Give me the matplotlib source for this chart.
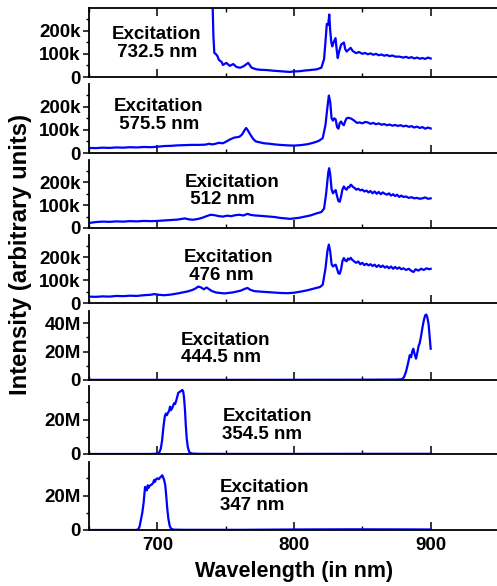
import matplotlib
matplotlib.use("Agg")
import matplotlib.pyplot as plt
from matplotlib.ticker import MultipleLocator, FuncFormatter

plt.rcParams['font.family'] = ['Liberation Sans', 'DejaVu Sans']
plt.rcParams['font.weight'] = 'bold'

# ---------------- data ----------------
labels = ["Excitation\n 732.5 nm", "Excitation\n 575.5 nm", "Exicitation\n 512 nm",
          "Excitation\n 476 nm", "Excitation\n444.5 nm", "Excitation\n354.5 nm",
          "Excitation\n347 nm"]

# panel 1 (k counts)
wl1 = [740, 740.5, 741, 741.7, 743, 744, 745, 747, 748, 750.5, 753, 755.5, 758, 760.6,
       763, 766.5, 769, 772.6, 776, 780, 785, 790, 794, 797, 800, 804, 808, 811.6, 816.5,
       820, 822, 823, 824, 825, 825.8, 826.5, 827.3, 828, 829, 830.4, 831.2, 832, 833,
       834.5, 836.5, 837.5, 838.5, 840, 841.4, 843, 845.5, 847.5, 850, 852, 854, 856, 858,
       860, 862, 864, 866, 868, 870, 872, 874, 877, 880, 882, 884, 886, 888, 890, 892, 894,
       896, 898, 900]
in1 = [450, 300, 180, 104, 98, 90, 74, 65, 52, 61, 48, 56, 43, 40, 46, 61, 40, 33, 31,
       30, 27, 25, 23, 22, 24, 25, 28, 30, 33, 40, 77, 150, 229, 225, 270, 200, 150, 132,
       150, 168, 120, 82, 110, 140, 149, 120, 110, 118, 126, 112, 103, 108, 100, 104, 98,
       102, 96, 100, 94, 97, 92, 95, 90, 93, 88, 88, 84, 87, 82, 86, 80, 84, 79, 82, 78,
       84, 80]

# panel 2 (k counts)
wl2 = [650, 655, 660, 665, 670, 675, 680, 685, 690, 695, 700, 705, 710, 715, 720, 725,
       730, 735, 738, 740, 742, 745, 748, 750, 753, 756, 758, 760, 762, 764, 765, 766, 768,
       770, 772, 775, 778, 782, 786, 790, 795, 800, 805, 810, 814, 818, 821, 823, 824.5,
       825.5, 826.5, 827.5, 828.5, 829.5, 830.5, 831.5, 832.5, 833.5, 834.5, 835.5, 836.5,
       837.5, 838.5, 840, 842, 844, 846, 848, 850, 852, 854, 856, 858, 860, 862, 864, 866,
       868, 870, 872, 874, 876, 878, 880, 882, 884, 886, 888, 890, 892, 894, 896, 898, 900]
in2 = [22, 21, 23, 22, 24, 23, 25, 24, 26, 25, 27, 30, 31, 33, 34, 35, 35, 36, 40, 37,
       39, 44, 42, 48, 58, 66, 68, 70, 80, 100, 108, 100, 80, 62, 50, 46, 42, 40, 37, 35,
       33, 32, 34, 38, 44, 52, 64, 120, 200, 248, 220, 150, 140, 150, 145, 112, 105, 130,
       136, 125, 120, 138, 150, 152, 148, 140, 130, 132, 128, 134, 132, 126, 130, 124, 128,
       122, 125, 120, 123, 118, 121, 117, 120, 115, 118, 113, 116, 110, 114, 108, 112, 105,
       110, 106]

# panel 3 (k counts)
wl3 = [650, 655, 660, 665, 670, 675, 680, 685, 690, 695, 700, 705, 710, 715, 720, 723,
       726, 730, 733, 736, 739, 742, 745, 748, 751, 754, 757, 760, 763, 766, 768, 771, 774,
       778, 782, 786, 790, 794, 797, 800, 804, 808, 812, 816, 820, 822, 823.5, 825, 825.7,
       826.5, 827.5, 828.5, 829.5, 830.5, 831.5, 832.5, 833.5, 834.5, 835.5, 836.5, 837.5,
       838.5, 839.5, 840.5, 841.5, 842.5, 843.5, 844.5, 845.5, 847, 848.5, 850, 851.5, 853,
       854.5, 856, 857.5, 859, 860.5, 862, 863.5, 865, 866.5, 868, 869.5, 871, 872.5, 874,
       875.5, 877, 878.5, 880, 882, 884, 886, 888, 890, 892, 894, 896, 898, 900]
in3 = [22, 26, 28, 27, 29, 28, 30, 29, 31, 30, 31, 33, 35, 37, 42, 38, 36, 40, 45, 52,
       58, 56, 52, 50, 54, 52, 56, 58, 55, 62, 58, 55, 54, 52, 50, 48, 44, 42, 40, 42, 45,
       50, 55, 63, 70, 85, 150, 240, 262, 235, 170, 152, 160, 166, 140, 118, 115, 140, 170,
       182, 172, 168, 180, 178, 190, 185, 178, 175, 168, 172, 165, 168, 160, 164, 156, 162,
       152, 160, 150, 158, 148, 156, 150, 146, 152, 142, 148, 140, 146, 136, 142, 136, 138,
       132, 135, 130, 132, 128, 130, 134, 128, 130]

# panel 4 (k counts)
wl4 = [650, 655, 660, 665, 670, 675, 680, 685, 690, 695, 698, 701, 705, 710, 715, 720,
       723, 726, 728, 730, 732, 734, 736, 738, 740, 743, 746, 749, 752, 755, 758, 761, 764,
       766, 768, 771, 775, 780, 785, 790, 795, 800, 805, 810, 815, 819, 821, 823, 824.5,
       825.5, 826.5, 827.5, 828.5, 829.5, 830.5, 831.5, 832.5, 833.5, 834.5, 835.5, 836.5,
       837.5, 838.5, 839.5, 840.5, 841.5, 842.5, 843.5, 844.5, 845.5, 847, 848.5, 850,
       851.5, 853, 854.5, 856, 857.5, 859, 860.5, 862, 863.5, 865, 866.5, 868, 869.5, 871,
       872.5, 874, 875.5, 877, 878.5, 880, 882, 884, 886, 887.5, 889, 891, 893, 895, 897,
       899, 900]
in4 = [28, 27, 29, 28, 31, 30, 32, 31, 34, 36, 39, 36, 34, 37, 42, 48, 52, 58, 64, 72,
       68, 60, 68, 60, 52, 46, 44, 42, 44, 46, 50, 54, 62, 66, 58, 52, 50, 48, 46, 44, 43,
       45, 50, 56, 64, 70, 80, 150, 230, 256, 225, 170, 160, 165, 168, 150, 130, 128, 150,
       185, 197, 186, 183, 195, 190, 198, 190, 185, 180, 176, 182, 170, 176, 166, 172, 165,
       170, 162, 168, 158, 166, 157, 164, 155, 161, 152, 160, 150, 158, 150, 156, 148, 152,
       145, 150, 140, 136, 148, 142, 150, 145, 152, 148, 150]

# panel 5 (M counts)
wl5 = [650, 700, 750, 800, 850, 875, 879, 880.5, 882, 883.5, 884.7, 885.7, 886.5, 887.3,
       888.3, 889.3, 890.2, 891.2, 892, 893, 894, 895, 896, 896.8, 897.6, 898.5, 899.3, 900]
in5 = [0.1, 0.1, 0.1, 0.15, 0.2, 0.3, 0.5, 2, 6, 12, 17.5, 16, 20, 22, 18, 15, 19, 24,
       26, 31, 37, 42, 45.5, 46, 44, 39, 30, 22]

# panel 6 (M counts)
wl6 = [650, 695, 700, 701.5, 702.5, 703.5, 704.5, 705.5, 706.3, 707, 707.8, 708.6, 709.3,
       710, 710.8, 711.5, 712.3, 713, 713.8, 714.5, 715.3, 716.2, 717.2, 718.2, 718.9,
       719.5, 720.2, 720.8, 721.5, 722.3, 723.3, 725, 730, 750, 800, 850, 900]
in6 = [0, 0, 0.2, 1, 3, 8, 16, 22, 23.5, 22.5, 24, 25, 27.5, 25.5, 26.5, 28, 29.5, 29,
       31, 33, 35.5, 36, 36.5, 37.2, 36.5, 33, 26, 17, 9, 4, 1.2, 0.3, 0.1, 0.05, 0.05,
       0.1, 0.1]

# panel 7 (M counts)
wl7 = [650, 684, 686, 687, 688, 689, 690, 691, 691.7, 692.3, 693, 693.6, 694.2, 695, 696,
       697, 697.6, 698.3, 699, 700, 701, 702, 703, 703.6, 704.3, 705, 705.8, 706.5, 707.2,
       708, 709, 710, 712, 720, 760, 800, 840, 880, 900]
in7 = [0, 0, 0.3, 2, 6, 10, 16, 25, 24, 23, 26, 24.5, 25.5, 26, 26.5, 27.5, 29, 28, 29.5,
       30, 29.5, 30.5, 31.2, 31.8, 30.5, 29, 26, 20, 13, 7, 2.5, 0.8, 0.2, 0.1, 0.1, 0.3,
       0.4, 0.35, 0.3]

series = [(wl1, in1, 1e3), (wl2, in2, 1e3), (wl3, in3, 1e3), (wl4, in4, 1e3),
          (wl5, in5, 1e6), (wl6, in6, 1e6), (wl7, in7, 1e6)]
xticks_major = [700, 800, 900]
xtick_labels = ["700", "800", "900"]

# ---------------- layout ----------------
W, H = 497, 586
fig = plt.figure(figsize=(W / 100, H / 100), dpi=100)

panel_px = [(8, 77), (84, 153), (160, 228), (235, 303), (311, 380), (386, 454), (462, 530)]
ylims = [298e3, 298e3, 298e3, 298e3, 48.5e6, 39.5e6, 39.5e6]
ymajor = [100e3] * 4 + [20e6] * 3
yminor = [50e3] * 4 + [10e6] * 3
text_pos = [(0.0565, 0.49), (0.0614, 0.54), (0.233, 0.545), (0.231, 0.535),
            (0.225, 0.45), (0.325, 0.42), (0.319, 0.49)]

left_px, right_px = 89, 499


def fmt_k(v, pos):
    return "0" if v == 0 else f"{int(round(v / 1e3))}k"


def fmt_m(v, pos):
    return "0" if v == 0 else f"{int(round(v / 1e6))}M"


for i, ((wl, inten, scale), (top, bot)) in enumerate(zip(series, panel_px)):
    ax = fig.add_axes([left_px / W, 1 - bot / H, (right_px - left_px) / W, (bot - top) / H])
    ax.plot(wl, [v * scale for v in inten], color='#0000ff', lw=1.6, clip_on=True)
    ax.set_xlim(650, 950)
    ax.set_ylim(0, ylims[i])
    ax.spines['right'].set_visible(False)
    ax.spines['top'].set_visible(i == 0)
    for s in ['left', 'bottom', 'top']:
        ax.spines[s].set_linewidth(1.3)
    ax.xaxis.set_major_locator(MultipleLocator(100))
    ax.xaxis.set_minor_locator(MultipleLocator(50))
    ax.yaxis.set_major_locator(MultipleLocator(ymajor[i]))
    ax.yaxis.set_minor_locator(MultipleLocator(yminor[i]))
    ax.yaxis.set_major_formatter(FuncFormatter(fmt_k if scale == 1e3 else fmt_m))
    ax.tick_params(axis='y', which='major', direction='out', length=4, width=1.1,
                   labelsize=13.5, pad=2)
    ax.tick_params(axis='y', which='minor', direction='out', length=2.5, width=1.0)
    ax.tick_params(axis='x', which='major', direction='in', length=6, width=1.1,
                   top=(i == 0), labelsize=13.5, pad=5)
    ax.tick_params(axis='x', which='minor', direction='in', length=3, width=1.0,
                   top=(i == 0))
    if i == 6:
        ax.set_xticks(xticks_major)
        ax.set_xticklabels(xtick_labels)
    else:
        ax.tick_params(axis='x', labelbottom=False)
    for lab in ax.get_yticklabels() + ax.get_xticklabels():
        lab.set_fontweight('bold')
    ax.text(text_pos[i][0], text_pos[i][1], labels[i], transform=ax.transAxes,
            ha='left', va='center', fontsize=13.5, fontweight='bold', linespacing=1.05)

fig.text(294 / W, 1 - 572 / H, "Wavelength (in nm)", ha='center', va='center',
         fontsize=15.5, fontweight='bold')
fig.text(21 / W, 1 - 254 / H, "Intensity (arbitrary units)", ha='center', va='center',
         rotation=90, fontsize=17.2, fontweight='bold')

fig.savefig("out.png", dpi=100)
